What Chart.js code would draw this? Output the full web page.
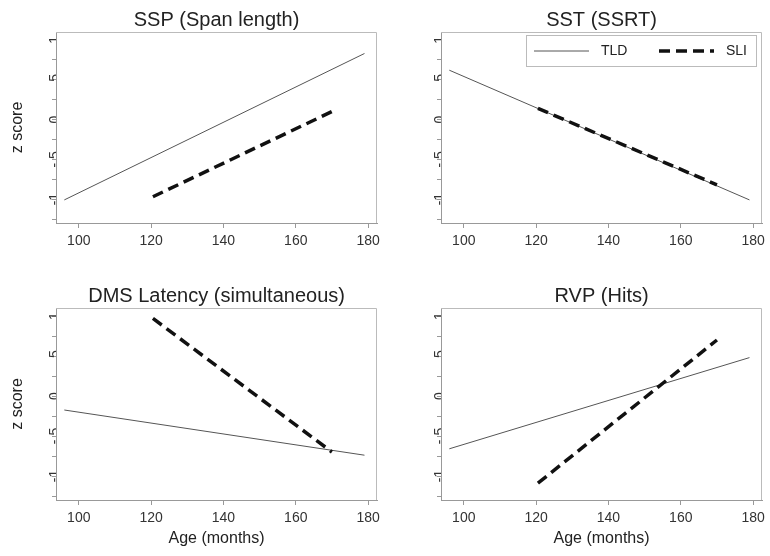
<!DOCTYPE html>
<html>
<head>
<meta charset="utf-8">
<script src="https://cdn.jsdelivr.net/npm/chart.js@4/dist/chart.umd.min.js"></script>
<style>
  body { margin: 0; background: #fff; }
  #wrap { position: relative; width: 770px; height: 556px; background: #fff; }
  canvas { position: absolute; }
</style>
</head>
<body>
<div id="wrap">
  <canvas id="ssp" width="385" height="262" style="left:0;top:0"></canvas>
  <canvas id="sst" width="385" height="262" style="left:385px;top:0"></canvas>
  <canvas id="dms" width="385" height="294" style="left:0;top:262px"></canvas>
  <canvas id="rvp" width="385" height="294" style="left:385px;top:262px"></canvas>
</div>
<script>
// fitted lines, start and end of each age range
const tldAge = [96, 179];
const sliAge = [120.5, 170];

const sspTLD = [-1.01, 0.83];
const sspSLI = [-0.97, 0.10];
const sstTLD = [0.62, -1.01];
const sstSLI = [0.14, -0.82];
const dmsTLD = [-0.175, -0.74];
const dmsSLI = [0.97, -0.70];
const rvpTLD = [-0.66, 0.48];
const rvpSLI = [-1.09, 0.70];

const xTicks = [100, 120, 140, 160, 180];
const yTicks = [-1, -0.5, 0, 0.5, 1];
const yMinor = [-1.25, -0.75, -0.25, 0.25, 0.75];

Chart.defaults.font.family = "'Liberation Sans', Arial, sans-serif";
Chart.defaults.color = '#333';

const frame = {
  id: 'frame',
  afterDraw(chart) {
    const { ctx, chartArea: a } = chart;
    const t = Math.round(a.top) + 0.5, r = Math.round(a.right) - 0.5;
    ctx.save();
    ctx.strokeStyle = '#bbb';
    ctx.lineWidth = 1;
    ctx.beginPath();
    ctx.moveTo(a.left, t);
    ctx.lineTo(r, t);
    ctx.lineTo(r, a.bottom);
    ctx.stroke();
    ctx.restore();
  }
};

// boxed legend inside the plot region (Stata style)
const boxLegend = {
  id: 'boxLegend',
  afterDraw(chart) {
    const { ctx, chartArea: a } = chart;
    const left = Math.round(a.left) + 85, top = Math.round(a.top) + 3;
    const w = 230, h = 31;
    ctx.save();
    ctx.strokeStyle = '#bbb';
    ctx.lineWidth = 1;
    ctx.strokeRect(left + 0.5, top + 0.5, w, h);
    const y = top + h / 2 + 0.5;
    chart.data.datasets.forEach((ds, i) => {
      const x0 = left + 8 + i * 125;
      ctx.strokeStyle = ds.borderColor;
      ctx.lineWidth = ds.borderWidth;
      ctx.setLineDash(ds.borderDash || []);
      ctx.beginPath();
      ctx.moveTo(x0, y);
      ctx.lineTo(x0 + 55, y);
      ctx.stroke();
      ctx.setLineDash([]);
      ctx.fillStyle = '#222';
      ctx.font = "14px 'Liberation Sans', Arial, sans-serif";
      ctx.textBaseline = 'middle';
      ctx.fillText(ds.label, x0 + 67, y);
    });
    ctx.restore();
  }
};

function makePanel(id, title, tld, sli, opt) {
  const plugins = [frame];
  if (opt.legend) plugins.push(boxLegend);
  return new Chart(document.getElementById(id), {
    type: 'line',
    data: {
      datasets: [
        {
          label: 'TLD',
          data: tldAge.map((x, i) => ({ x, y: tld[i] })),
          borderColor: '#555',
          borderWidth: 1,
          pointRadius: 0,
          order: 1
        },
        {
          label: 'SLI',
          data: sliAge.map((x, i) => ({ x, y: sli[i] })),
          borderColor: '#111',
          borderWidth: 3.5,
          borderDash: [11, 6],
          pointRadius: 0,
          order: 0
        }
      ]
    },
    options: {
      responsive: false,
      animation: false,
      layout: { padding: { right: 4 } },
      plugins: {
        legend: { display: false },
        tooltip: { enabled: false },
        title: {
          display: true,
          text: title,
          fullSize: false,
          color: '#222',
          font: { size: 20, weight: 'normal' },
          padding: { top: opt.titleTop, bottom: 0 }
        }
      },
      scales: {
        x: {
          type: 'linear',
          min: 93.7,
          max: 182.5,
          afterBuildTicks: s => { s.ticks = xTicks.map(v => ({ value: v })); },
          afterFit: s => { s.height = opt.xHeight; },
          grid: { drawOnChartArea: false, tickLength: 5, color: '#999' },
          border: { color: '#999' },
          ticks: { autoSkip: false, maxRotation: 0, padding: 5, color: '#333', font: { size: 14 } },
          title: {
            display: opt.xTitle,
            text: 'Age (months)',
            color: '#222',
            font: { size: 16 },
            padding: { top: 0, bottom: 8 }
          }
        },
        y: {
          min: -1.3,
          max: 1.1,
          afterBuildTicks: s => {
            s.ticks = yTicks.concat(yMinor).sort((p, q) => p - q).map(v => ({ value: v }));
          },
          afterFit: s => { s.width = 56; },
          grid: { drawOnChartArea: false, tickLength: 4, color: '#999' },
          border: { color: '#999' },
          ticks: {
            autoSkip: false,
            minRotation: 90,
            maxRotation: 90,
            crossAlign: 'center',
            padding: -11,
            color: '#333',
            font: { size: 14 },
            callback: v => yTicks.includes(v) ? String(v).replace('0.', '.') : ''
          },
          title: {
            display: opt.yTitle,
            text: 'z score',
            color: '#222',
            font: { size: 16 },
            padding: { top: 8, bottom: 0 }
          }
        }
      }
    },
    plugins
  });
}

makePanel('ssp', 'SSP (Span length)', sspTLD, sspSLI, { titleTop: 8, xHeight: 39, xTitle: false, yTitle: true });
makePanel('sst', 'SST (SSRT)', sstTLD, sstSLI, { titleTop: 8, xHeight: 39, xTitle: false, yTitle: false, legend: true });
makePanel('dms', 'DMS Latency (simultaneous)', dmsTLD, dmsSLI, { titleTop: 22, xHeight: 56, xTitle: true, yTitle: true });
makePanel('rvp', 'RVP (Hits)', rvpTLD, rvpSLI, { titleTop: 22, xHeight: 56, xTitle: true, yTitle: false });
</script>
</body>
</html>
